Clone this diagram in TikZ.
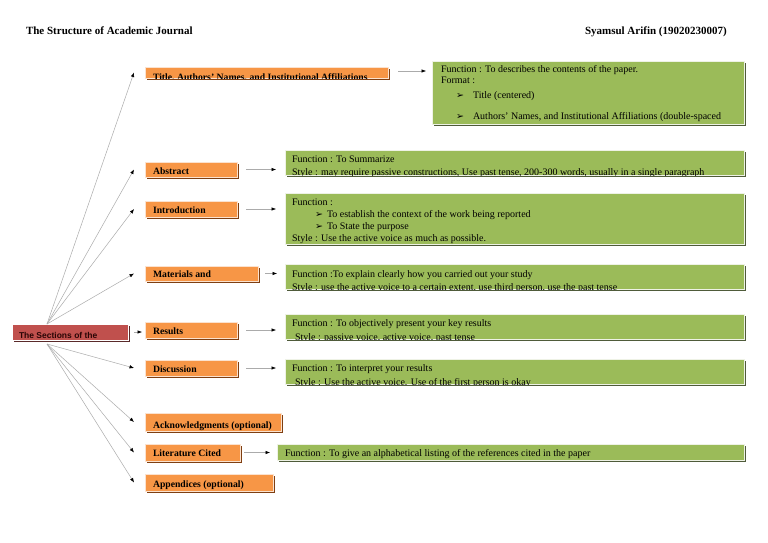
\documentclass[tikz,border=0pt]{standalone}
\usepackage{fontspec}
\setmainfont{Liberation Serif}
\newfontfamily\rootfont{Liberation Sans}
\newfontfamily\symfont{DejaVu Sans}
\usetikzlibrary{arrows.meta,shadows}
\definecolor{orF}{HTML}{F79646}
\definecolor{orS}{HTML}{7F3F12}
\definecolor{orL}{HTML}{FBE2CF}
\definecolor{grF}{HTML}{9BBB59}
\definecolor{grS}{HTML}{4F5B3A}
\definecolor{grL}{HTML}{EEF2E5}
\definecolor{rdF}{HTML}{C0504D}
\definecolor{rdS}{HTML}{5A2A2A}
\definecolor{rdT}{HTML}{2A0505}
\definecolor{lnC}{HTML}{ABABAB}
\tikzset{
  boxbase/.style={rectangle, anchor=north west, inner sep=0pt, outer sep=0pt, line width=0.9pt},
  obox/.style={boxbase, fill=orF, draw=orL, general shadow={fill=orS, shadow xshift=2.2pt, shadow yshift=-2.2pt}},
  gbox/.style={boxbase, fill=grF, draw=grL, general shadow={fill=grS, shadow xshift=2.4pt, shadow yshift=-2.4pt}},
  rbox/.style={boxbase, fill=rdF, draw=white, general shadow={fill=rdS, shadow xshift=2.2pt, shadow yshift=-2.2pt}},
  lbl/.style={inner sep=0pt, outer sep=0pt, anchor=base west},
  otxt/.style={lbl, font={\fontsize{9.7}{11}\selectfont\bfseries}},
  gtxt/.style={lbl, font={\fontsize{10}{11.5}\selectfont}},
  rtxt/.style={lbl, font={\rootfont\fontsize{8.5}{10}\selectfont\bfseries}, text=rdT},
  htxt/.style={lbl, font={\fontsize{11}{13}\selectfont\bfseries}},
  bul/.style={lbl, font={\symfont\fontsize{9.5}{10}\selectfont}},
  fan/.style={draw=lnC, line width=0.5pt, -{Latex[length=4.5pt,width=3.5pt,color=black]}},
  harr/.style={draw=lnC, line width=0.5pt, -{Latex[length=4.5pt,width=3.5pt,color=black]}},
}
\newcommand\mkbox[6]{\node[#1, minimum width={(#5-#3)*1pt}, minimum height={(#6-#4)*1pt}] (#2) at (#3,#4) {};}
\newcommand\clipto[1]{\clip (#1.north west) rectangle (#1.south east);}
\begin{document}
\begin{tikzpicture}[x=1pt,y=-1pt]
\useasboundingbox[fill=white] (0,0) rectangle (768,543);

% headings
\node[htxt] (head) at (26,35) {The Structure of Academic Journal};
\node[htxt] (auth) at (585,35) {Syamsul Arifin (19020230007)};

% root
\mkbox{rbox}{root}{12}{324}{128}{340}
\begin{scope}\clipto{root}
\node[rtxt] (roott) at (19,338.5) {The Sections of the};
\end{scope}

% orange boxes
\mkbox{obox}{O1}{145}{67}{388}{78}
\mkbox{obox}{O2}{145}{162}{237}{177}
\mkbox{obox}{O3}{145}{201}{237}{217}
\mkbox{obox}{O4}{145}{266}{258}{281}
\mkbox{obox}{O5}{145}{322}{237}{338}
\mkbox{obox}{O6}{145}{360}{237}{376}
\mkbox{obox}{O7}{145}{413}{281}{431}
\mkbox{obox}{O8}{145}{444}{240}{461}
\mkbox{obox}{O9}{145}{474}{273}{491}

\begin{scope}\clipto{O1}\node[otxt] (O1t) at (153,80.5) {Title, Authors' Names, and Institutional Affiliations};\end{scope}
\begin{scope}\clipto{O2}\node[otxt] (O2t) at (153,174) {Abstract};\end{scope}
\begin{scope}\clipto{O3}\node[otxt] (O3t) at (153,213) {Introduction};\end{scope}
\begin{scope}\clipto{O4}\node[otxt] (O4t) at (153,277.5) {Materials and};\end{scope}
\begin{scope}\clipto{O5}\node[otxt] (O5t) at (153,334) {Results};\end{scope}
\begin{scope}\clipto{O6}\node[otxt] (O6t) at (153,372.5) {Discussion};\end{scope}
\begin{scope}\clipto{O7}\node[otxt] (O7t) at (153,428) {Acknowledgments (optional)};\end{scope}
\begin{scope}\clipto{O8}\node[otxt] (O8t) at (153,456.5) {Literature Cited};\end{scope}
\begin{scope}\clipto{O9}\node[otxt] (O9t) at (153,487.5) {Appendices (optional)};\end{scope}

% green boxes
\mkbox{gbox}{G1}{432}{61}{744}{124}
\mkbox{gbox}{G2}{285}{150}{744}{175}
\mkbox{gbox}{G3}{285}{193}{744}{244}
\mkbox{gbox}{G4}{285}{264}{744}{289}
\mkbox{gbox}{G5}{285}{314}{744}{339}
\mkbox{gbox}{G6}{285}{359}{744}{384}
\mkbox{gbox}{G7}{277}{444}{744}{460}

\begin{scope}\clipto{G1}
\node[gtxt] (G1a) at (441,73) {Function : To describes the contents of the paper.};
\node[gtxt] (G1b) at (441,84) {Format :};
\node[bul]  (G1c) at (456,98) {➢};
\node[gtxt] (G1d) at (473,98) {Title (centered)};
\node[bul]  (G1e) at (456,119) {➢};
\node[gtxt] (G1f) at (473,119) {Authors' Names, and Institutional Affiliations (double-spaced};
\end{scope}
\begin{scope}\clipto{G2}
\node[gtxt] (G2a) at (292,162) {Function : To Summarize};
\node[gtxt] (G2b) at (292,175.5) {Style : may require passive constructions, Use past tense, 200-300 words, usually in a single paragraph};
\end{scope}
\begin{scope}\clipto{G3}
\node[gtxt] (G3a) at (292,205) {Function :};
\node[bul]  (G3b) at (315,217) {➢};
\node[gtxt] (G3c) at (327,217) {To establish the context of the work being reported};
\node[bul]  (G3d) at (315,229) {➢};
\node[gtxt] (G3e) at (327,229) {To State the purpose};
\node[gtxt] (G3f) at (292,241) {Style : Use the active voice as much as possible.};
\end{scope}
\begin{scope}\clipto{G4}
\node[gtxt] (G4a) at (292,277) {Function :To explain clearly how you carried out your study};
\node[gtxt] (G4b) at (292,290.5) {Style : use the active voice to a certain extent, use third person, use the past tense};
\end{scope}
\begin{scope}\clipto{G5}
\node[gtxt] (G5a) at (292,326) {Function : To objectively present your key results};
\node[gtxt] (G5b) at (295,340) {Style : passive voice, active voice, past tense};
\end{scope}
\begin{scope}\clipto{G6}
\node[gtxt] (G6a) at (292,371) {Function : To interpret your results};
\node[gtxt] (G6b) at (295,385) {Style : Use the active voice. Use of the first person is okay};
\end{scope}
\begin{scope}\clipto{G7}
\node[gtxt] (G7a) at (285,456) {Function : To give an alphabetical listing of the references cited in the paper};
\end{scope}

% fan connectors
\coordinate (ftop) at ([xshift=35pt]root.north west);
\coordinate (fbot) at ([xshift=35pt,yshift=-4pt]root.south west);
\foreach \n in {O1,O2,O3,O4} \draw[fan] (ftop) -- ([xshift=-11pt]\n.west);
\foreach \n in {O6,O7,O8,O9} \draw[fan] (fbot) -- ([xshift=-11pt]\n.west);
\draw[harr] ([xshift=6pt]root.east) -- ([xshift=-3pt]root.east -| O5.west);

% orange to green
\draw[harr] ([xshift=10pt,yshift=1.5pt]O1.east) -- ([xshift=-6pt,yshift=1.5pt]O1.east -| G1.west);
\draw[harr] ([xshift=9pt]O2.east) -- ([xshift=-9pt]O2.east -| G2.west);
\draw[harr] ([xshift=9pt]O3.east) -- ([xshift=-9pt]O3.east -| G3.west);
\draw[harr] ([xshift=7pt]O4.east) -- ([xshift=-8pt]O4.east -| G4.west);
\draw[harr] ([xshift=9pt]O5.east) -- ([xshift=-9pt]O5.east -| G5.west);
\draw[harr] ([xshift=9pt]O6.east) -- ([xshift=-9pt]O6.east -| G6.west);
\draw[harr] ([xshift=4pt]O8.east) -- ([xshift=-7pt]O8.east -| G7.west);
\end{tikzpicture}
\end{document}
